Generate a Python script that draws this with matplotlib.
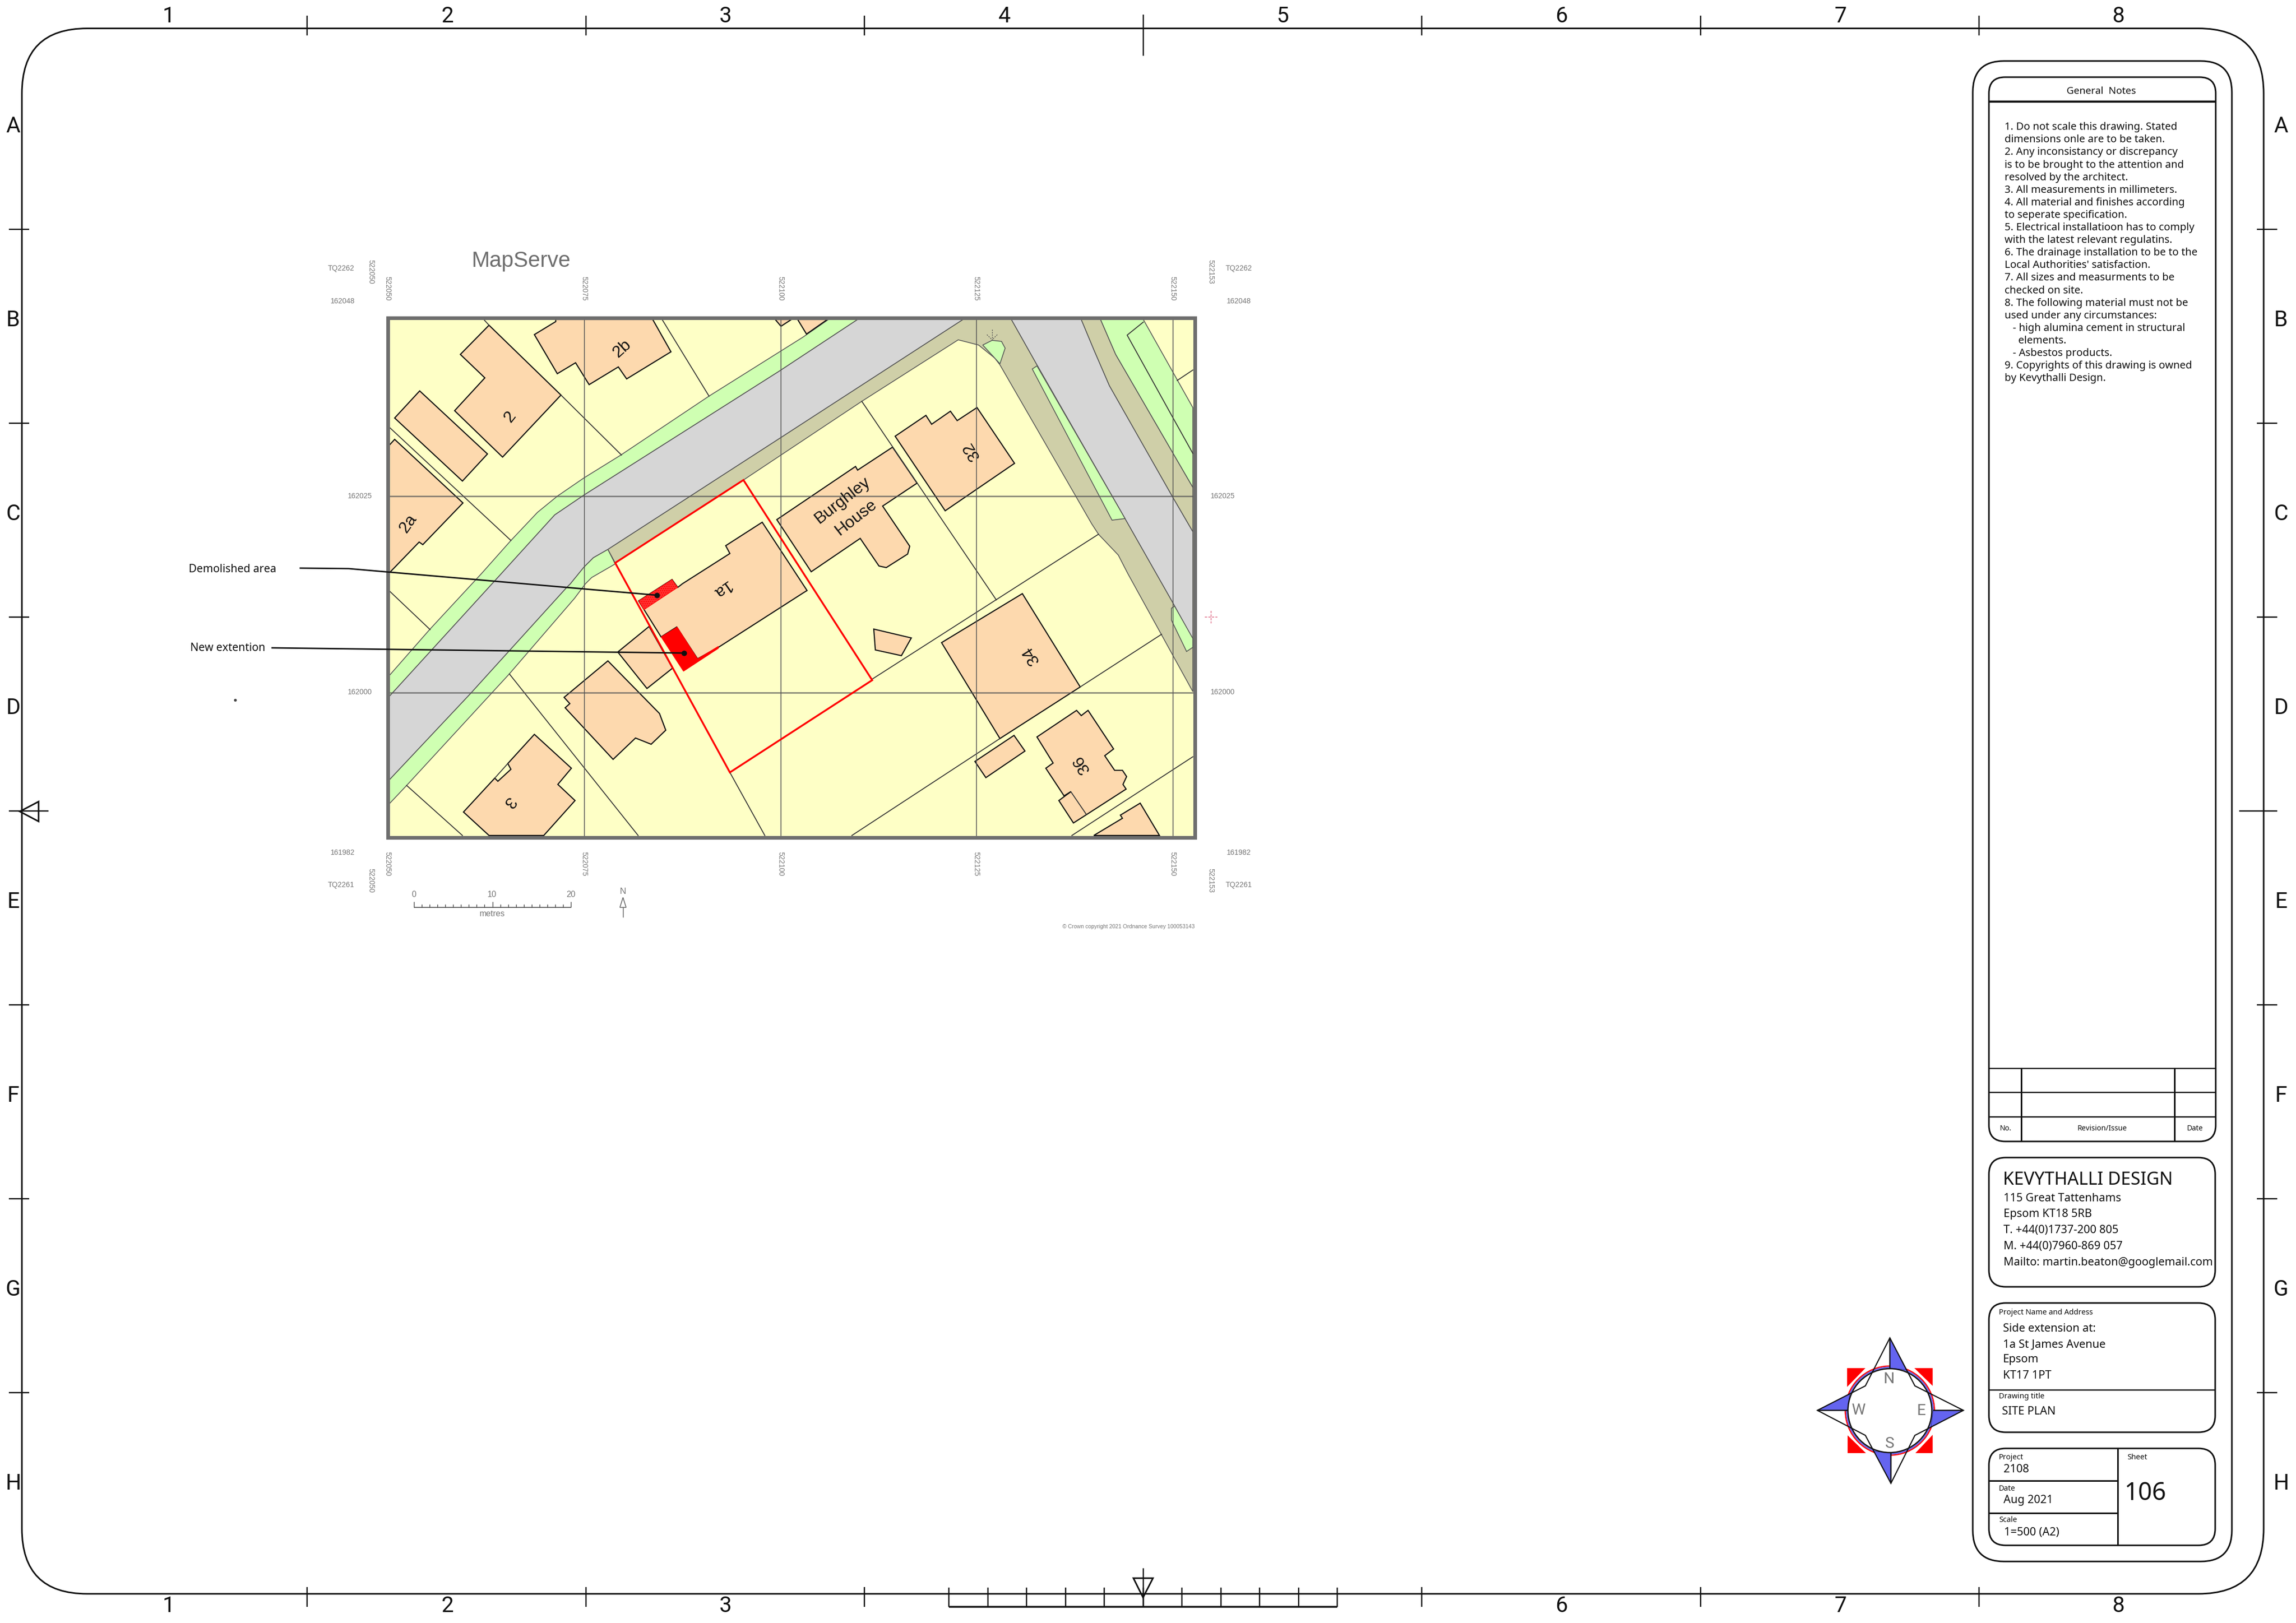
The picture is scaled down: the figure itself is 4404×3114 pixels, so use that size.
import numpy as np
import matplotlib
matplotlib.use("Agg")
import matplotlib.pyplot as plt
from matplotlib.patches import Polygon, Circle, FancyBboxPatch, Rectangle

# everything in pixels (x right, y down)
COL_TICKS = [589, 1123.5, 1658, 2192.5, 2727, 3261.5, 3796]
ROW_TICKS = [440, 812, 1184, 1556, 1928, 2300, 2672]
COL_LABELS = ["1", "2", "3", "4", "5", "6", "7", "8"]
COL_LABEL_X = [323, 857.5, 1392, 1926.5, 2461, 2995.5, 3530, 4063]
ROW_LABELS = ["A", "B", "C", "D", "E", "F", "G", "H"]
ROW_LABEL_Y = [239, 611, 983, 1355, 1727, 2099, 2471, 2843]
RULER_X = [1820, 1894.5, 1969, 2043.5, 2118, 2192.5, 2267, 2341.5, 2416, 2490.5, 2565]

GRID_X = [1121, 1498, 1873, 2250]
GRID_Y = [952, 1329]
EASTINGS = ["522050", "522075", "522100", "522125", "522150"]
EASTING_X = [743, 1120, 1497, 1872, 2249]
NORTHINGS = ["162025", "162000"]
NORTHING_Y = [951, 1327]

GREEN_UPPER = [(746, 1337), (944, 1120), (1064, 988), (1120, 950), (1495, 712), (1645, 613), (1589, 613), (1540, 647),
               (1360, 760), (1191, 873), (1120, 917), (1069, 952), (1031, 983), (980, 1037), (924, 1100), (824, 1208), (746, 1297)]
GREEN_LOWER = [(746, 1497), (903, 1330), (1087, 1127), (1094, 1120), (1120, 1088), (1138, 1070), (1166, 1054), (1180, 1082),
               (1135, 1108), (1123, 1120), (1102, 1148), (977, 1293), (780, 1507), (746, 1543)]
GREY_MAIN = [(746, 1337), (944, 1120), (1064, 988), (1120, 950), (1495, 712), (1645, 613), (1847, 613), (1500, 838),
             (1166, 1054), (1138, 1070), (1120, 1088), (1094, 1120), (1087, 1127), (903, 1330), (746, 1497)]
TAN_VERGE = [(1166, 1054), (1500, 838), (1847, 613), (1940, 613), (1989, 700), (2158, 995), (2229, 1120), (2250, 1157), (2288, 1227),
             (2288, 1327), (2163, 1100), (2145, 1065), (2107, 1025), (2094, 1005), (1918, 700), (1908, 687), (1877, 662), (1838, 652),
             (1653, 770), (1426, 921), (1180, 1080)]
GREY_RIGHT = [(1940, 613), (2074, 613), (2099, 673), (2128, 740), (2249, 953), (2288, 1020), (2288, 1227), (2250, 1157), (2229, 1120),
              (2158, 995), (1989, 700)]
TAN_RIGHT = [(2074, 613), (2111, 613), (2140, 680), (2288, 935), (2288, 1020), (2249, 953), (2128, 740), (2099, 673)]
GREEN_RIGHT = [(2111, 613), (2193, 613), (2288, 782), (2288, 935), (2140, 680)]
GREEN_ISLAND = [(1989, 702), (1980, 708), (2133, 998), (2158, 995)]
GREEN_SMALL = [(2247, 1167), (2253, 1163), (2288, 1225), (2288, 1242), (2276, 1250), (2247, 1190)]
GREEN_BLOB = [(1885, 662), (1903, 653), (1921, 655), (1928, 668), (1918, 698), (1908, 687)]
TREE_DASHES = [[(1903, 632), (1903, 652)], [(1893, 642), (1903, 652)], [(1913, 642), (1903, 652)]]

BUILDINGS = [
    [(938, 624), (1076, 758), (964, 877), (872, 788), (930, 725), (883, 680)],
    [(805, 750), (935, 871), (887, 923), (757, 802)],
    [(1066, 613), (1066, 617), (1025, 642), (1069, 717), (1104, 696), (1130, 738), (1186, 704), (1202, 727), (1287, 675), (1252, 613)],
    [(746, 855), (757, 843), (888, 965), (811, 1045), (804, 1040), (746, 1100)],
    [(1487, 613), (1498, 626), (1518, 613)],
    [(1530, 613), (1547, 641), (1587, 613)],
    [(1462, 1002), (1392, 1047), (1400, 1062), (1309, 1120), (1300, 1127), (1289, 1112), (1225, 1153), (1268, 1222), (1298, 1203),
     (1338, 1264), (1378, 1242), (1540, 1138), (1548, 1133)],
    [(1245, 1202), (1185, 1251), (1241, 1321), (1290, 1282)],
    [(1166, 1268), (1082, 1338), (1093, 1350), (1084, 1358), (1176, 1457), (1219, 1416), (1249, 1428), (1277, 1401), (1265, 1369)],
    [(1025, 1409), (1096, 1474), (1070, 1505), (1103, 1536), (1043, 1603), (938, 1603), (889, 1558), (949, 1493), (955, 1499), (980, 1476), (974, 1465)],
    [(1712, 858), (1645, 902), (1641, 895), (1490, 997), (1556, 1097), (1650, 1033), (1686, 1086), (1700, 1089), (1741, 1063), (1745, 1048), (1693, 971), (1759, 927)],
    [(1874, 782), (1946, 889), (1813, 980), (1717, 837), (1776, 797), (1787, 814), (1823, 789), (1836, 807)],
    [(1676, 1207), (1748, 1224), (1729, 1258), (1679, 1247)],
    [(1961, 1139), (2072, 1318), (1918, 1417), (1806, 1233)],
    [(1945, 1411), (1966, 1441), (1891, 1492), (1870, 1461)],
    [(1989, 1414), (2065, 1363), (2074, 1373), (2087, 1363), (2136, 1437), (2119, 1450), (2138, 1478), (2153, 1478), (2161, 1490), (2154, 1505), (2160, 1514),
     (2084, 1563), (2059, 1579), (2031, 1536), (2054, 1519), (2041, 1527), (2006, 1474), (2020, 1464)],
    [(2187, 1541), (2224, 1603), (2098, 1603), (2153, 1570), (2149, 1564)],
]
BOUNDARIES = [
    [(928, 613), (938, 624)], [(1076, 758), (1192, 873)], [(1270, 613), (1360, 760)], [(746, 819), (980, 1037)],
    [(746, 1133), (825, 1208)], [(977, 1293), (1224, 1603)], [(780, 1507), (887, 1603)], [(1400, 1482), (1467, 1603)],
    [(1653, 770), (1911, 1151)], [(1673, 1303), (2107, 1025)], [(2072, 1318), (2228, 1217)], [(1634, 1603), (1918, 1417)],
    [(2056, 1603), (2288, 1452)], [(2193, 618), (2162, 643), (2249, 800), (2288, 870)], [(2258, 730), (2288, 710)],
    [(2054, 1519), (2084, 1563)], [(949, 1493), (974, 1465)],
]
SITE_RED = [(1426, 921), (1180, 1080), (1400, 1482), (1673, 1305)]
DEMOLISHED = [(1289, 1112), (1300, 1127), (1235, 1170), (1225, 1153)]
EXTENSION = [(1268, 1222), (1299, 1203), (1338, 1264), (1378, 1240), (1378, 1244), (1311, 1288)]

HOUSE_LABELS = ["2", "2b", "2a", "1a", "3", "32", "34", "36", "Burghley", "House"]
HOUSE_X = [979, 1193, 783, 1384, 976, 1864, 1978, 2075, 1616, 1642]
HOUSE_Y = [800, 669, 1005, 1130, 1539, 865, 1257, 1466, 960, 993]
HOUSE_ROT = [52, 42, 55, 215, 232, 122, 122, 122, 38, 38]

NOTES = ["1. Do not scale this drawing. Stated", "dimensions onle are to be taken.", "2. Any inconsistancy or discrepancy",
         "is to be brought to the attention and", "resolved by the architect.", "3. All measurements in millimeters.",
         "4. All material and finishes according", "to seperate specification.", "5. Electrical installatioon has to comply",
         "with the latest relevant regulatins.", "6. The drainage installation to be to the", "Local Authorities' satisfaction.",
         "7. All sizes and measurments to be", "checked on site.", "8. The following material must not be",
         "used under any circumstances:", "   - high alumina cement in structural", "     elements.", "   - Asbestos products.",
         "9. Copyrights of this drawing is owned", "by Kevythalli Design."]
ADDRESS = ["115 Great Tattenhams", "Epsom KT18 5RB", "T. +44(0)1737-200 805", "M. +44(0)7960-869 057", "Mailto: martin.beaton@googlemail.com"]
ADDRESS_Y = [2297, 2327, 2358, 2389, 2420]
PROJECT = ["Side extension at:", "1a St James Avenue", "Epsom", "KT17 1PT"]
PROJECT_Y = [2547, 2578, 2606, 2637]

STAR = [(3625, 2567), (3578, 2659), (3486, 2706), (3578, 2754), (3627, 2846), (3673, 2754), (3766, 2706), (3673, 2659)]
COMPASS_RED = [[(3543, 2625), (3578, 2625), (3543, 2661)], [(3672, 2625), (3707, 2625), (3707, 2659)],
               [(3544, 2754), (3579, 2788), (3544, 2788)], [(3707, 2753), (3707, 2788), (3674, 2788)]]
COMPASS_BLUE = [[(3625, 2567), (3625, 2625), (3656, 2628)], [(3766, 2706), (3708, 2706), (3704, 2738)],
                [(3627, 2846), (3627, 2787), (3595, 2785)], [(3486, 2706), (3544, 2706), (3548, 2674)]]

FIG_W, FIG_H = 4404, 3114
BLK = "#111111"
UI = "Noto Sans"
ARIAL = "Liberation Sans"
THIN = ["Liberation Sans Narrow", "Roboto"]

fig = plt.figure(figsize=(FIG_W / 100, FIG_H / 100), dpi=100)
ax = fig.add_axes([0, 0, 1, 1])
ax.set_xlim(0, FIG_W)
ax.set_ylim(FIG_H, 0)
ax.axis("off")


def px(n):
    return n * 0.72


def line(xs, ys, lw=2.5, c=BLK, **kw):
    ax.plot(xs, ys, color=c, lw=px(lw), solid_capstyle="butt", **kw)


def rbox(x0, y0, x1, y1, r, lw=3):
    ax.add_patch(FancyBboxPatch((x0, y0), x1 - x0, y1 - y0, boxstyle=f"round,pad=0,rounding_size={r}",
                                fc="none", ec=BLK, lw=px(lw)))


def txt(x, y, s, size, ha="left", c="#111111", fam=UI, **kw):
    # y is the middle of the capitals, so the text sits on a baseline below it
    if kw.get("rotation"):
        ax.text(x, y, s, fontsize=px(size), ha=ha, va="center", color=c, family=fam, **kw)
    else:
        ax.text(x, y + 0.36 * size, s, fontsize=px(size), ha=ha, va="baseline", color=c, family=fam, **kw)


# sheet border
rbox(42, 54.5, 4342, 3058, 125)
for x in COL_TICKS:
    top = 28 if x == 2192.5 else 30
    bot = 107 if x == 2192.5 else 68
    line([x, x], [top, bot])
    line([x, x], [3045 if x != 2192.5 else 3009, 3083])
for y in ROW_TICKS:
    r = 93 if y == 1556 else 56
    line([17, r], [y, y])
    line([4295 if y == 1556 else 4329, 4368], [y, y])
for s, x in zip(COL_LABELS, COL_LABEL_X):
    txt(x, 28, s, 42, ha="center", fam=THIN)
    if s not in ("4", "5"):
        txt(x, 3078, s, 42, ha="center", fam=THIN)
for s, y in zip(ROW_LABELS, ROW_LABEL_Y):
    txt(25, y, s, 42, ha="center", fam=THIN)
    txt(4375, y, s, 42, ha="center", fam=THIN)
ax.add_patch(Polygon([(38, 1557), (74, 1538), (74, 1576)], closed=True, fc="none", ec=BLK, lw=px(3)))
for x in RULER_X:
    line([x, x], [3046, 3083])
line([RULER_X[0], RULER_X[-1]], [3083, 3083], lw=3.5)
ax.add_patch(Polygon([(2192.5, 3065), (2174, 3028), (2211.5, 3028)], closed=True, fc="none", ec=BLK, lw=px(3)))

# map
frame = Rectangle((744, 610), 1548, 997, fc="#FEFFC6", ec="none", zorder=1)
ax.add_patch(frame)
road_edge = "#555555"
for pts, col in [(GREEN_UPPER, "#CFFFB2"), (GREEN_LOWER, "#CFFFB2"), (TAN_VERGE, "#CFCFA8"), (GREY_MAIN, "#D6D6D6"),
                 (GREY_RIGHT, "#D6D6D6"), (TAN_RIGHT, "#CFCFA8"), (GREEN_RIGHT, "#CFFFB2"), (GREEN_ISLAND, "#CFFFB2"),
                 (GREEN_SMALL, "#CFFFB2"), (GREEN_BLOB, "#CFFFB2")]:
    ax.add_patch(Polygon(pts, closed=True, fc=col, ec=road_edge, lw=px(1.6), zorder=2, clip_path=frame))
for pts in TREE_DASHES:
    a = np.array(pts)
    ax.plot(a[:, 0], a[:, 1], color="#555555", lw=px(1.3), ls=(0, (2, 1.5)), zorder=3)
for pts in BUILDINGS:
    ax.add_patch(Polygon(pts, closed=True, fc="#FDD9AE", ec="#111111", lw=px(2.2), zorder=3, clip_path=frame))
for pts in BOUNDARIES:
    a = np.array(pts)
    ax.plot(a[:, 0], a[:, 1], color="#333333", lw=px(1.8), zorder=3, clip_path=frame)
for x in GRID_X:
    ax.plot([x, x], [610, 1607], color="#555555", lw=px(1.8), alpha=0.85, zorder=4)
for y in GRID_Y:
    ax.plot([744, 2292], [y, y], color="#555555", lw=px(2.6), alpha=0.75, zorder=4)
ax.add_patch(Polygon(DEMOLISHED, closed=True, fc="#FF3030", ec="#FF0000", lw=px(1), hatch="....", zorder=5))
ax.add_patch(Polygon(EXTENSION, closed=True, fc="#FF0000", ec="#FF0000", lw=px(1), zorder=5))
ax.add_patch(Polygon(SITE_RED, closed=True, fc="none", ec="#FF0000", lw=px(3.5), zorder=6))
ax.add_patch(Rectangle((744, 610), 1548, 997, fc="none", ec="#6E6E6E", lw=px(7), zorder=7))
for s, x, y, r in zip(HOUSE_LABELS, HOUSE_X, HOUSE_Y, HOUSE_ROT):
    ax.text(x, y, s, fontsize=px(32), family=ARIAL, color="#111111", rotation=r, ha="center", va="center",
            rotation_mode="anchor", zorder=8)

# margin labels of the map
gry = "#777777"
txt(905, 497, "MapServe", 41.7, c="#6E6E6E", fam=ARIAL)
for s, x, y in [("TQ2262", 654, 514), ("162048", 657, 577), ("161982", 657, 1635), ("TQ2261", 654, 1697),
                ("TQ2262", 2376, 514), ("162048", 2376, 577), ("161982", 2376, 1635), ("TQ2261", 2376, 1697)]:
    txt(x, y, s, 14, ha="center", c=gry, fam=ARIAL)
for s, y in zip(NORTHINGS, NORTHING_Y):
    txt(690, y, s, 14, ha="center", c=gry, fam=ARIAL)
    txt(2345, y, s, 14, ha="center", c=gry, fam=ARIAL)
for s, x in zip(EASTINGS, EASTING_X):
    txt(x, 553, s, 14, ha="center", c=gry, fam=ARIAL, rotation=270)
    txt(x, 1657, s, 14, ha="center", c=gry, fam=ARIAL, rotation=270)
for s, x, y in [("522050", 711, 521), ("522153", 2322, 521), ("522050", 711, 1689), ("522153", 2322, 1689)]:
    txt(x, y, s, 14, ha="center", c=gry, fam=ARIAL, rotation=270)
for s, x in [("0", 794), ("10", 944), ("20", 1095)]:
    txt(x, 1715, s, 16, ha="center", c=gry, fam=ARIAL)
txt(944, 1752, "metres", 16, ha="center", c=gry, fam=ARIAL)
line([794, 1095], [1741, 1741], lw=1.6, c="#444444")
for i in range(21):
    x = 794 + i * 15.05
    line([x, x], [1730 if i % 10 == 0 else 1735, 1741], lw=1.4, c="#444444")
txt(1195, 1709, "N", 17, ha="center", c=gry, fam=ARIAL)
ax.add_patch(Polygon([(1195, 1722), (1189, 1741), (1201, 1741)], closed=True, fc="none", ec="#555555", lw=px(1.4)))
line([1195, 1195], [1741, 1760], lw=1.4, c="#555555")
txt(2292, 1777, "© Crown copyright 2021 Ordnance Survey 100053143", 10.5, ha="right", c=gry, fam=ARIAL)
ax.plot([2311, 2335], [1184, 1184], color="#E0708A", lw=px(1.5), ls=(0, (3, 1.5)))
ax.plot([2323, 2323], [1172, 1196], color="#E0708A", lw=px(1.5), ls=(0, (3, 1.5)))

# leaders
txt(362, 1090, "Demolished area", 21)
txt(365, 1241, "New extention", 21)
ax.plot([576, 669, 1260], [1090, 1091, 1142], color=BLK, lw=px(2.8), zorder=9)
ax.plot([522, 1312], [1243, 1253], color=BLK, lw=px(2.8), zorder=9)
ax.plot([1260, 1312], [1142, 1253], ls="none", marker="o", ms=px(9), color=BLK, zorder=9)
ax.plot([451], [1343], ls="none", marker="o", ms=px(4), color="#444444")

# right hand panel
rbox(3784, 117, 4281, 2996, 60)
rbox(3815, 148, 4250, 2190, 31)
line([3815, 4250], [195, 195], lw=4)
txt(4031, 173, "General  Notes", 19, ha="center")
for i, s in enumerate(NOTES):
    txt(3845, 242 + i * 24.1, s, 20)
for y in [2050, 2096, 2143]:
    line([3815, 4250], [y, y])
for x in [3877, 4171]:
    line([x, x], [2050, 2190], lw=3)
txt(3847, 2164, "No.", 14, ha="center")
txt(4032, 2164, "Revision/Issue", 14, ha="center")
txt(4210, 2164, "Date", 14, ha="center")

rbox(3815, 2221, 4249, 2469, 32)
txt(3842, 2261, "KEVYTHALLI DESIGN", 34)
for s, y in zip(ADDRESS, ADDRESS_Y):
    txt(3843, y, s, 21.5)

rbox(3815, 2500, 4249, 2748, 32)
line([3815, 4249], [2667, 2667])
txt(3834, 2517, "Project Name and Address", 14.5)
for s, y in zip(PROJECT, PROJECT_Y):
    txt(3842, y, s, 21.5)
txt(3834, 2678, "Drawing title", 14.5)
txt(3840, 2706, "SITE PLAN", 21.5)

rbox(3815, 2779, 4249, 2965, 32)
line([4062, 4062], [2779, 2965], lw=3)
line([3815, 4062], [2841, 2841], lw=3)
line([3815, 4062], [2903, 2903], lw=3)
txt(3834, 2795, "Project", 14.5)
txt(3843, 2817, "2108", 21.5)
txt(3834, 2855, "Date", 14.5)
txt(3843, 2876, "Aug 2021", 21.5)
txt(3834, 2915, "Scale", 14.5)
txt(3844, 2938, "1=500 (A2)", 21.5)
txt(4080, 2795, "Sheet", 14.5)
txt(4075, 2861, "106", 47)

# compass rose
for pts in COMPASS_RED:
    ax.add_patch(Polygon(pts, closed=True, fc="#FF0000", ec="none", zorder=10))
ax.add_patch(Circle((3625, 2706.5), 85.5, fc="white", ec="#FF0000", lw=px(2.5), zorder=11))
ax.add_patch(Circle((3625, 2706.5), 83, fc="none", ec="#6464F0", lw=px(2.5), zorder=11))
for pts in COMPASS_BLUE:
    ax.add_patch(Polygon(pts, closed=True, fc="#6464F0", ec="#3030A0", lw=px(1), zorder=12))
ax.add_patch(Circle((3625, 2706.5), 80.5, fc="none", ec=BLK, lw=px(2.5), zorder=13))
ax.add_patch(Polygon(STAR, closed=True, fc="none", ec=BLK, lw=px(2.2), zorder=13))
line([3625, 3625], [2567, 2625], zorder=13)
line([3708, 3766], [2706, 2706], zorder=13)
line([3627, 3627], [2787, 2846], zorder=13)
line([3486, 3544], [2706, 2706], zorder=13)
for s, x, y in [("N", 3623, 2643), ("W", 3564, 2703), ("E", 3685, 2704), ("S", 3625, 2767)]:
    txt(x, y, s, 30, ha="center", c="#777777", fam=THIN, zorder=14)

fig.savefig("out.png", dpi=100)
